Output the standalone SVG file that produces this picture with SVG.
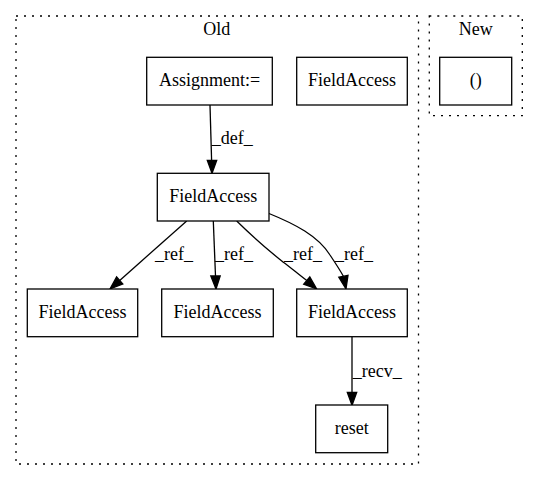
<svg xmlns="http://www.w3.org/2000/svg" width="539" height="480" viewBox="0 0 539 480">
<style>
text{font-family:"Liberation Serif","Times New Roman",serif;font-size:18px;fill:#000}
.node rect{fill:#fff;stroke:#000;stroke-width:1.3}
.cluster rect{fill:none;stroke:#000;stroke-width:1.3;stroke-dasharray:2,6}
.edge path{fill:none;stroke:#000;stroke-width:1.3}
.edge polygon{fill:#000;stroke:#000;stroke-width:1.3}
.c{text-anchor:middle}
</style>
<rect width="539" height="480" fill="#fff"/>
<g id="cluster_old" class="cluster">
<rect x="16" y="16" width="402.5" height="448"/>
<text class="c" x="216.7" y="35">Old</text>
</g>
<g id="cluster_new" class="cluster">
<rect x="429.3" y="16" width="93" height="99.7"/>
<text class="c" x="475.7" y="35">New</text>
</g>
<g id="connectors">
<g class="edge" id="e_def">
<path d="M210,105 L211.6,160.3"/>
<polygon points="212,173.3 207.3,160.3 216.7,160.3"/>
<text x="211.7" y="144">_def_</text>
</g>
<g class="edge" id="e_ref1">
<path d="M186.7,221 L119.7,280.4"/>
<polygon points="110,289 122.8,283.9 116.6,276.9"/>
<text x="155" y="260">_ref_</text>
</g>
<g class="edge" id="e_ref2">
<path d="M213.3,221 L215.5,276"/>
<polygon points="216,289 210.8,276 220.2,276"/>
<text x="215" y="260">_ref_</text>
</g>
<g class="edge" id="e_ref3">
<path d="M236.7,221 C252,236 268,250 283,262 C290,267 298,274 306.8,280.6"/>
<polygon points="316.7,289 303.7,284.2 309.8,277"/>
<text x="284" y="260">_ref_</text>
</g>
<g class="edge" id="e_ref4">
<path d="M269,213.5 C295,224 318,236 330,255 C336,264 340,270 343.4,276.3"/>
<polygon points="346,289 338.8,277.2 348,275.4"/>
<text x="335" y="260">_ref_</text>
</g>
<g class="edge" id="e_recv">
<path d="M352,337 L352,392.3"/>
<polygon points="352,405.3 347.3,392.3 356.7,392.3"/>
<text x="352.7" y="377">_recv_</text>
</g>
</g>
<g id="n_assign" class="node">
<rect x="146.7" y="57.3" width="125.6" height="47.7"/>
<text class="c" x="209.5" y="86">Assignment:=</text>
</g>
<g id="n_fa_top" class="node">
<rect x="296.7" y="57.3" width="110.6" height="47.7"/>
<text class="c" x="352" y="86">FieldAccess</text>
</g>
<g id="n_paren" class="node">
<rect x="439.7" y="57.3" width="72" height="47.7"/>
<text class="c" x="475.7" y="86">()</text>
</g>
<g id="n_fa_mid" class="node">
<rect x="157.3" y="173.3" width="111.7" height="47.7"/>
<text class="c" x="213.2" y="202">FieldAccess</text>
</g>
<g id="n_fa_left" class="node">
<rect x="27.3" y="289" width="110.4" height="47.7"/>
<text class="c" x="82.5" y="318">FieldAccess</text>
</g>
<g id="n_fa_center" class="node">
<rect x="161.7" y="289" width="111.6" height="47.7"/>
<text class="c" x="217.5" y="318">FieldAccess</text>
</g>
<g id="n_fa_right" class="node">
<rect x="296.7" y="289" width="110.6" height="47.7"/>
<text class="c" x="352" y="318">FieldAccess</text>
</g>
<g id="n_reset" class="node">
<rect x="315.7" y="405" width="72" height="47.7"/>
<text class="c" x="351.7" y="434">reset</text>
</g>
</svg>
